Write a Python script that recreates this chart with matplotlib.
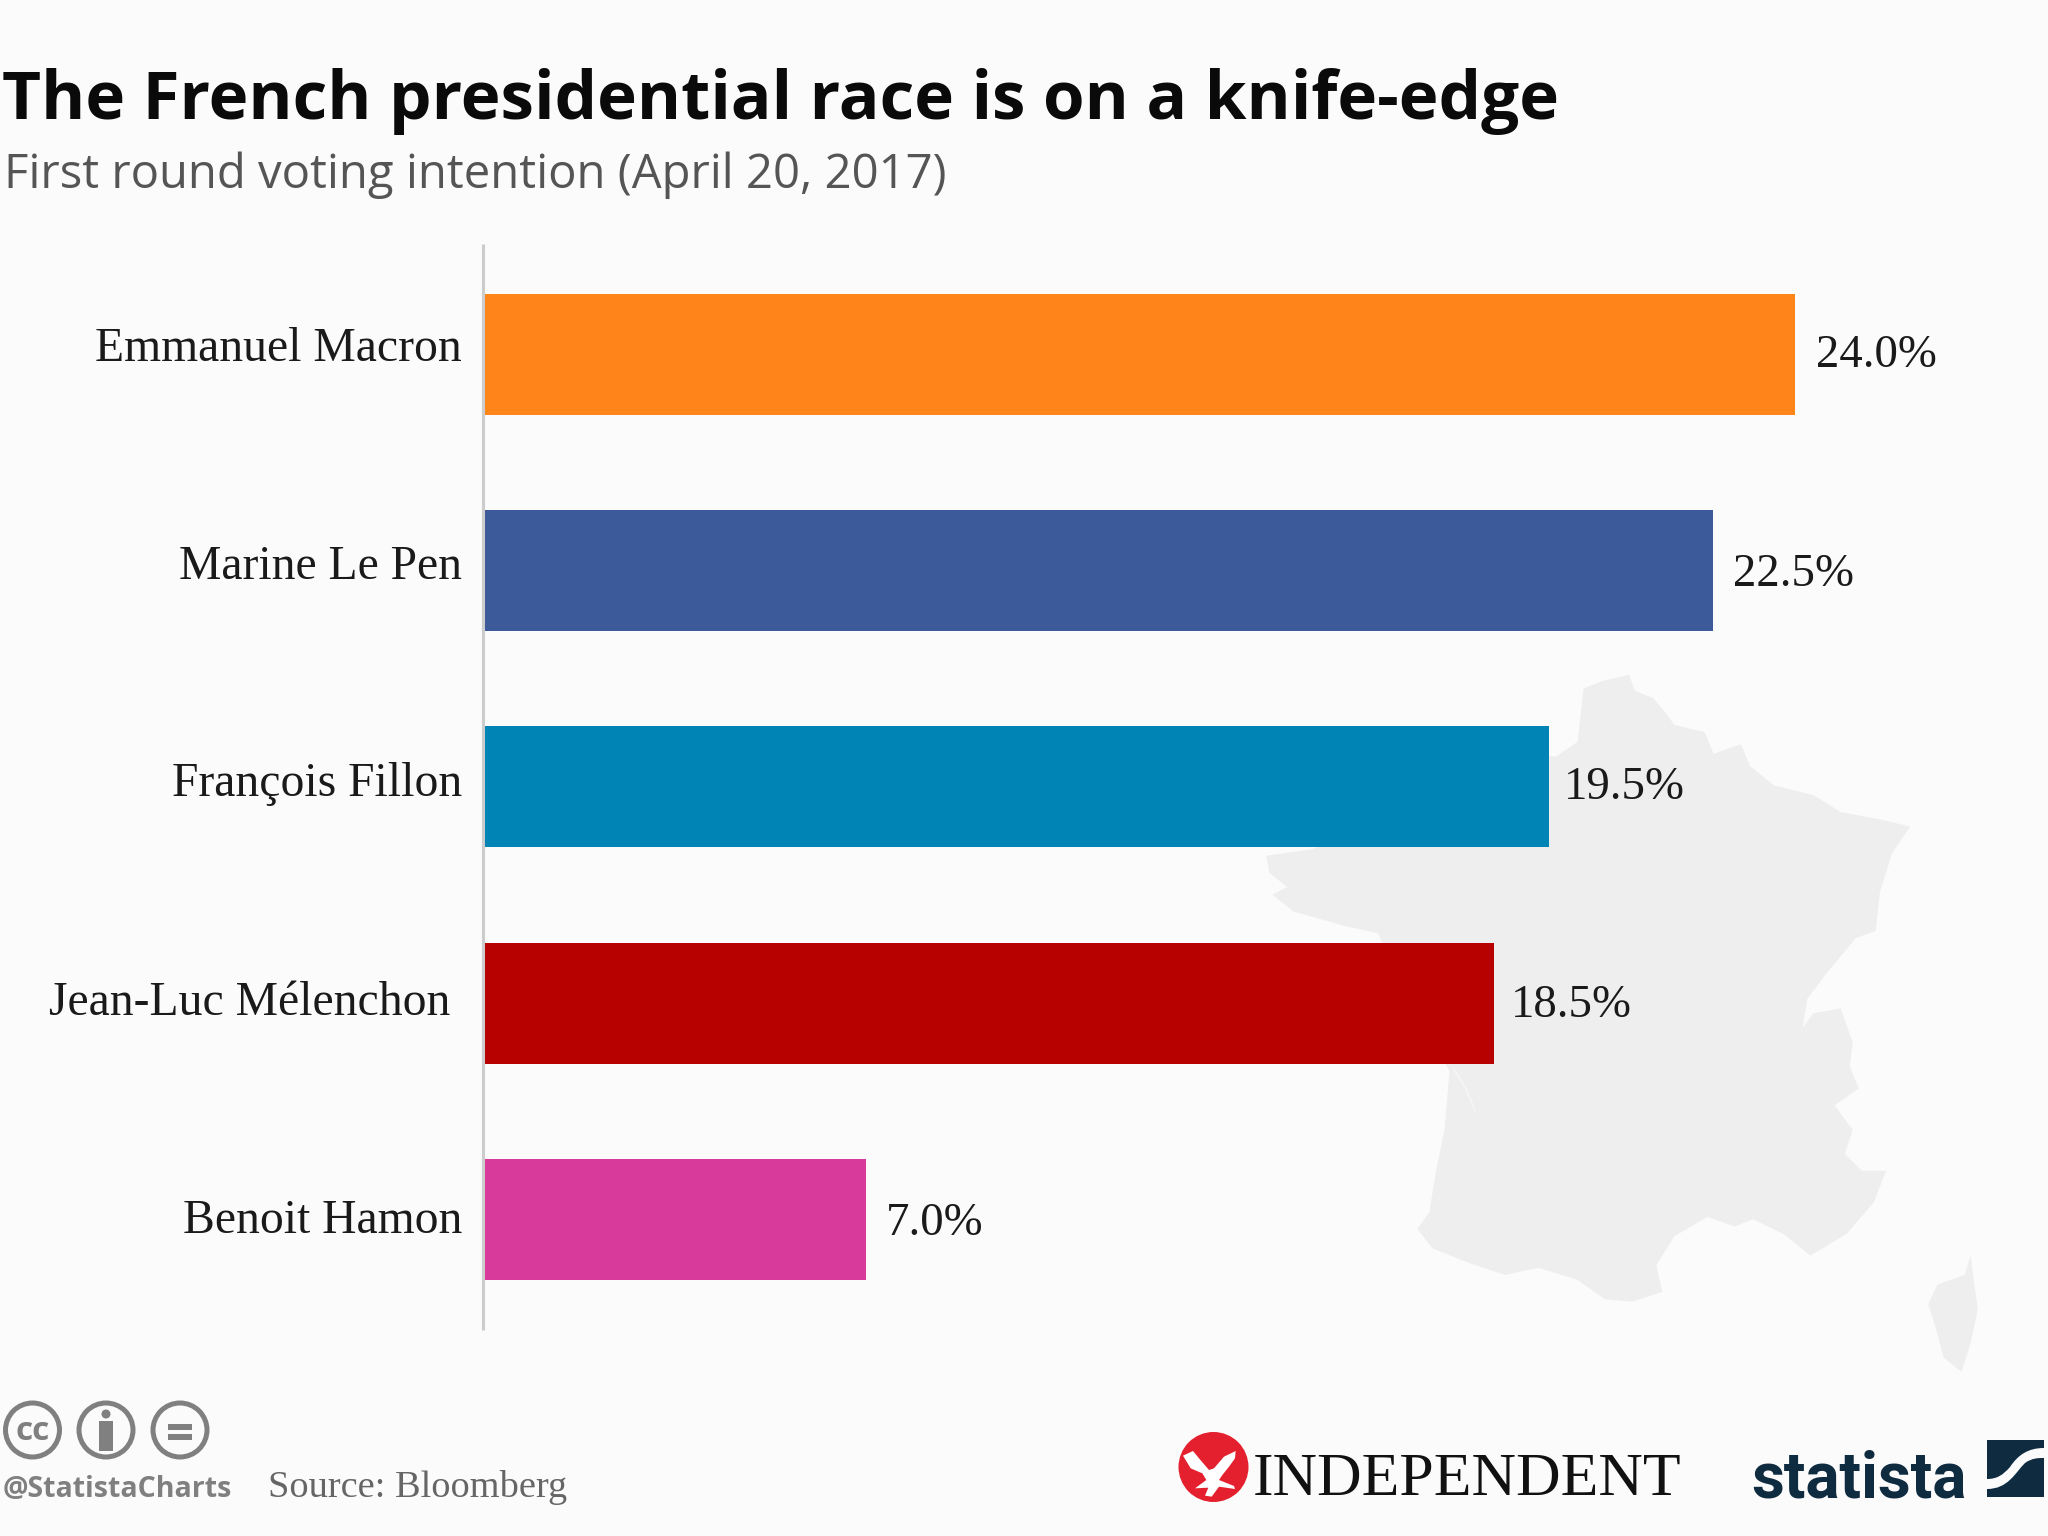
import matplotlib as mpl
mpl.use('Agg')
import matplotlib.pyplot as plt
import matplotlib.transforms as mtransforms
from matplotlib.patches import Circle, Rectangle, Polygon, PathPatch
from matplotlib.path import Path

# chart data
candidates = ["Emmanuel Macron", "Marine Le Pen", "François Fillon", "Jean-Luc Mélenchon ", "Benoit Hamon"]
shares = [24.0, 22.5, 19.5, 18.5, 7.0]
bar_colors = ["#FF851B", "#3C5A99", "#0084B6", "#B70000", "#D83A9B"]

title = "The French presidential race is on a knife-edge"
subtitle = "First round voting intention (April 20, 2017)"
source = "Source: Bloomberg"
handle = "@StatistaCharts"

france = [(875,72),(885,105),(915,120),(935,150),(950,175),(1000,190),(1015,235),(1060,215),(1075,260),
          (1115,300),(1180,320),(1225,355),(1290,370),(1340,385),(1310,440),(1290,520),(1283,600),(1250,615),
          (1200,690),(1170,740),(1162,800),(1180,770),(1225,760),(1245,830),(1240,880),(1255,925),(1215,960),
          (1245,1010),(1232,1060),(1260,1095),(1300,1095),(1280,1160),(1235,1225),(1175,1270),(1130,1225),
          (1080,1195),(1050,1210),(1005,1190),(950,1230),(920,1290),(930,1345),(880,1365),(835,1360),(790,1320),
          (725,1295),(670,1310),(610,1285),(550,1255),(525,1215),(545,1180),(555,1100),(570,1010),(578,890),
          (465,620),(460,605),(405,590),(320,560),(285,525),(310,510),(280,480),(275,445),(350,432),
          (743,240),(755,240),(790,210),(800,100),(830,85)]
corsica = [(1440,1270),(1445,1320),(1452,1380),(1440,1450),(1425,1510),(1395,1480),(1385,1430),(1370,1370),
           (1385,1330),(1430,1310)]
eagle = [(42,92),(72,78),(90,100),(120,135),(135,130),(165,95),(200,78),(198,100),(180,125),(160,150),(150,165),
         (195,183),(198,192),(150,185),(128,215),(108,212),(118,188),(78,190),(112,165),(100,145),(65,130)]

def crop_px(points):
    return [(1100 + x / 1.654, 640 + y / 2.063) for x, y in points]

bg_color = "#FBFBFB"
fig = plt.figure(figsize=(20.48, 15.36), dpi=100, facecolor=bg_color)

# pixel overlay for map, logos and header
bg = fig.add_axes([0, 0, 1, 1], zorder=0)
bg.set_xlim(0, 2048)
bg.set_ylim(1536, 0)
bg.axis('off')

bg.add_patch(Polygon(crop_px(france), closed=True, fc="#EEEEEE", ec="none"))
bg.add_patch(Polygon(crop_px(corsica), closed=True, fc="#EEEEEE", ec="none"))
gironde = crop_px([(585,885),(605,925),(620,970)])
bg.plot([p[0] for p in gironde], [p[1] for p in gironde], color="#F6F6F6", lw=1.2)

bg.text(2, 119, title, fontsize=48.5, fontweight='bold', family='Open Sans', color="#0A0A0A", va='baseline')
bg.text(4, 188, subtitle, fontsize=34, family='Open Sans', color="#555555", va='baseline')

# cc icons
grey = "#808080"
for cx in [32.5, 106, 180]:
    bg.add_patch(Circle((cx, 1430), 27, fc="none", ec=grey, lw=3.6))
bg.text(32.5, 1431, "cc", fontsize=24, fontweight='bold', family='Open Sans', color=grey, ha='center', va='center')
bg.add_patch(Circle((106, 1414), 4.5, fc=grey, ec="none"))
bg.add_patch(Rectangle((99, 1421), 14, 30, fc=grey, ec="none"))
bg.add_patch(Rectangle((168, 1424), 24, 6, fc=grey, ec="none"))
bg.add_patch(Rectangle((168, 1434), 24, 6, fc=grey, ec="none"))

bg.text(3, 1497, handle, fontsize=20.5, fontweight='bold', family='Open Sans', color=grey, va='baseline')
bg.text(268, 1497, source, fontsize=27.6, family='Liberation Serif', color="#666666", va='baseline')

# Independent logo
bg.add_patch(Circle((1213.5, 1467), 35, fc="#E5202E", ec="none"))
bg.add_patch(Polygon([(1169 + x / 3, 1425 + y / 3) for x, y in eagle], closed=True, fc="white", ec="none"))
bg.text(1253, 1495, "INDEPENDENT", fontsize=44.5, family='Liberation Serif', color="#111111", va='baseline')

# Statista logo
navy = "#0F2B40"
bg.text(1751, 1497, "statista", fontsize=46, fontweight='bold', family=['Liberation Sans Narrow', 'Roboto'],
        color=navy, va='baseline')
bg.add_patch(Rectangle((1987, 1440), 57, 57, fc=navy, ec="none"))
band = Path([(1987, 1489), (2008, 1489), (2015, 1473), (2025, 1463), (2032, 1458), (2038, 1458), (2044, 1458),
             (2044, 1448), (2028, 1448), (2018, 1455), (2010, 1467), (2003, 1475), (1997, 1479), (1987, 1479),
             (1987, 1489)],
            [Path.MOVETO, Path.CURVE4, Path.CURVE4, Path.CURVE4, Path.CURVE4, Path.CURVE4, Path.CURVE4,
             Path.LINETO, Path.CURVE4, Path.CURVE4, Path.CURVE4, Path.CURVE4, Path.CURVE4, Path.CURVE4,
             Path.CLOSEPOLY])
bg.add_patch(PathPatch(band, fc=bg_color, ec="none"))

# bars sit on real data axes
px_per_unit = 54.67
ax_left = 483
ax = fig.add_axes([ax_left / 2048, 1 - 1330 / 1536, 1 - ax_left / 2048, (1330 - 244) / 1536], zorder=1)
ax.patch.set_alpha(0)
y_pos = list(range(len(shares)))
ax.barh(y_pos, shares, height=0.56, color=bar_colors)
ax.set_xlim(0, (2048 - ax_left) / px_per_unit)
ax.set_ylim(4.512, -0.511)

for spine in ['top', 'right', 'bottom']:
    ax.spines[spine].set_visible(False)
ax.spines['left'].set_color("#CCCCCC")
ax.spines['left'].set_linewidth(2.2)
ax.spines['left'].set_capstyle('butt')
ax.set_xticks([])
ax.set_yticks(y_pos, labels=candidates, fontsize=34.3, family='Liberation Serif', color="#1A1A1A")
ax.tick_params(axis='y', length=0, pad=15)

# the labels drift a little against the bars in the original
name_nudge = [10, 9, 7.5, 5.5, 3.5]
value_nudge = [(21, -1.6), (20, -3.8), (15, -0.4), (16, -2.4), (20, -4.2)]
for lbl, dy in zip(ax.get_yticklabels(), name_nudge):
    lbl.set_transform(lbl.get_transform() + mtransforms.Affine2D().translate(0, dy))

for y, value, nudge in zip(y_pos, shares, value_nudge):
    ax.annotate(f"{value:.1f}%", (value, y), xytext=nudge, textcoords='offset pixels', fontsize=33.7,
                family='Liberation Serif', color="#1A1A1A", va='center', ha='left')

fig.savefig("out.png", dpi=100, facecolor=fig.get_facecolor())
